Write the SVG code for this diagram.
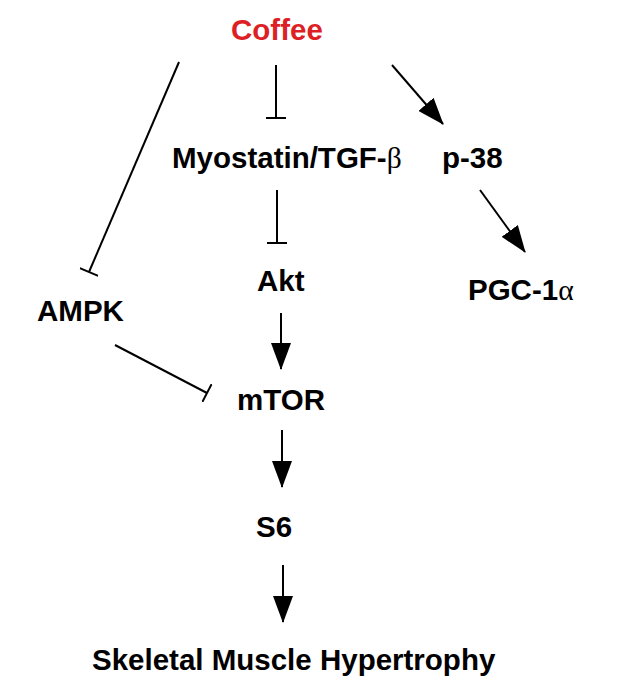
<svg xmlns="http://www.w3.org/2000/svg" width="620" height="683" viewBox="0 0 620 683">
<defs>
<style>
.lbl{font-family:"Liberation Sans",Arial,sans-serif;font-weight:bold;font-size:29.5px;fill:#000}
.red{fill:#dd1f26}
.greek{font-family:"Liberation Serif","Times New Roman",serif;font-weight:normal}
.edge{stroke:#000;stroke-width:2;fill:none}
.act{marker-end:url(#arrow)}
.inh{marker-end:url(#tee)}
</style>
<marker id="arrow" viewBox="0 0 27 20" refX="26" refY="10" markerWidth="27" markerHeight="20" markerUnits="userSpaceOnUse" orient="auto">
<path d="M0,0 L27,10 L0,20 Z" fill="#000"/>
</marker>
<marker id="tee" viewBox="0 0 4 20" refX="2" refY="10" markerWidth="4" markerHeight="20" markerUnits="userSpaceOnUse" orient="auto">
<path d="M2,0 V20" stroke="#000" stroke-width="2"/>
</marker>
</defs>
<rect width="620" height="683" fill="#fff"/>
<g id="connectors">
<line class="edge inh" x1="179" y1="62" x2="89" y2="272"/>
<line class="edge inh" x1="276" y1="65" x2="276" y2="118"/>
<line class="edge act" x1="392" y1="65" x2="443" y2="124"/>
<line class="edge inh" x1="277" y1="190" x2="277" y2="243"/>
<line class="edge act" x1="480" y1="190" x2="525" y2="252"/>
<line class="edge act" x1="281" y1="313" x2="281" y2="369"/>
<line class="edge inh" x1="115" y1="345" x2="207" y2="393"/>
<line class="edge act" x1="282" y1="430" x2="282" y2="487"/>
<line class="edge act" x1="283" y1="565" x2="283" y2="622"/>
</g>
<g id="coffee"><text class="lbl red" x="231" y="40">Coffee</text></g>
<g id="myostatin"><text class="lbl" x="172" y="168">Myostatin/TGF-<tspan class="greek">β</tspan></text></g>
<g id="p38"><text class="lbl" x="442" y="168">p-38</text></g>
<g id="akt"><text class="lbl" x="257" y="291">Akt</text></g>
<g id="pgc1a"><text class="lbl" x="468" y="300">PGC-1<tspan class="greek">α</tspan></text></g>
<g id="ampk"><text class="lbl" x="37" y="321">AMPK</text></g>
<g id="mtor"><text class="lbl" x="237" y="410">mTOR</text></g>
<g id="s6"><text class="lbl" x="256" y="537">S6</text></g>
<g id="hypertrophy"><text class="lbl" x="92" y="670">Skeletal Muscle Hypertrophy</text></g>
</svg>
